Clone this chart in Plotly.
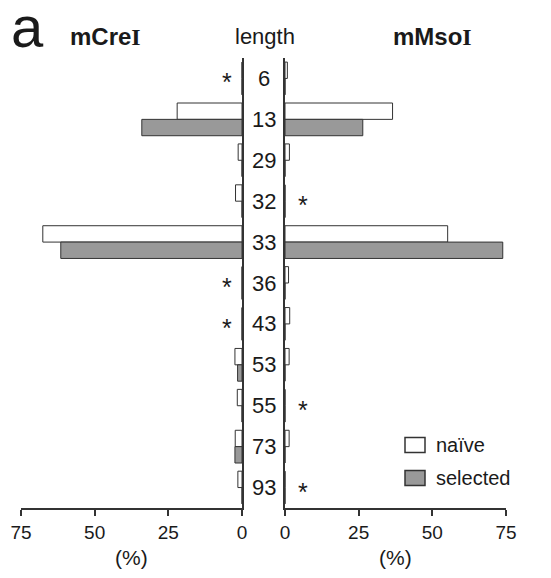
import plotly.graph_objects as go

# ---- data ----
lengths = ["6", "13", "29", "32", "33", "36", "43", "53", "55", "73", "93"]
mcrei_naive =    [0, 22, 1.3, 2.2, 67.6, 0, 0, 2.4, 1.6, 2.3, 1.4]
mcrei_selected = [0, 34, 0,   0,   61.5, 0, 0, 1.5, 0,   2.4, 0]
mmsoi_naive =    [0.8, 36.5, 1.5, 0, 55.2, 1.2, 1.6, 1.4, 0, 1.4, 0]
mmsoi_selected = [0,   26.4, 0,   0, 73.9, 0,   0,   0,   0, 0,   0]
mcrei_stars = ["6", "36", "43"]
mmsoi_stars = ["32", "55", "93"]
xticks = [0, 25, 50, 75]
series_names = ["naïve", "selected"]

FONT = "Liberation Sans, Arial, sans-serif"
SERIF = "Liberation Serif, Times New Roman, serif"
TXT = "#1a1a1a"
LINE = "#333333"
GRAY = "#999999"
FILLS = ["white", GRAY]

fig = go.Figure()
for xa, ya, vals in [("x", "y", [mcrei_naive, mcrei_selected]),
                     ("x2", "y2", [mmsoi_naive, mmsoi_selected])]:
    for name, v, fc in zip(series_names, vals, FILLS):
        fig.add_trace(go.Bar(y=lengths, x=v, orientation="h", name=name,
                             marker=dict(color=fc, line=dict(color=LINE, width=1)),
                             xaxis=xa, yaxis=ya, showlegend=False))

W, H = 551, 578
ydom = [1 - 508 / H, 1 - 58 / H]
ncat = len(lengths)
xcommon = dict(tickvals=xticks, ticktext=[str(v) for v in xticks], ticks="outside",
               ticklen=6, tickwidth=1.5, tickcolor=LINE, showline=True, linecolor=LINE,
               linewidth=1.5, showgrid=False, zeroline=False,
               tickfont=dict(family=FONT, size=19, color=TXT))
ycommon = dict(type="category", categoryorder="array", categoryarray=lengths,
               range=[ncat - 0.5, -0.5], autorange=False,
               showline=True, linecolor=LINE, linewidth=1.5,
               showgrid=False, zeroline=False, showticklabels=False, ticks="",
               domain=ydom)


def ann(**kw):
    d = dict(showarrow=False, xanchor="center", yanchor="middle")
    d.update(kw)
    return d


annotations = []
for i, lab in enumerate(lengths):
    annotations.append(ann(x=264 / W, xref="paper", y=i, yref="y", text=lab,
                           font=dict(family=FONT, size=22, color=TXT)))
for lab in mcrei_stars:
    annotations.append(ann(x=5, xref="x", y=lengths.index(lab), yref="y", text="*",
                           yshift=-4, font=dict(family=FONT, size=25, color=TXT)))
for lab in mmsoi_stars:
    annotations.append(ann(x=6, xref="x2", y=lengths.index(lab), yref="y2", text="*",
                           yshift=-4, font=dict(family=FONT, size=25, color=TXT)))
annotations += [
    ann(x=37.5, xref="x", y=1 - 557 / H, yref="paper", text="(%)",
        font=dict(family=FONT, size=21, color=TXT)),
    ann(x=37.5, xref="x2", y=1 - 557 / H, yref="paper", text="(%)",
        font=dict(family=FONT, size=21, color=TXT)),
    ann(x=27 / W, xref="paper", y=1, yref="paper", yanchor="top", yshift=8, text="a",
        font=dict(family=FONT, size=58, color=TXT)),
    ann(x=105 / W, xref="paper", y=1 - 37 / H, yref="paper",
        text=f'<b>mCre<span style="font-family:{SERIF}">I</span></b>',
        font=dict(family=FONT, size=24, color=TXT)),
    ann(x=265 / W, xref="paper", y=1 - 37 / H, yref="paper", text="length",
        font=dict(family=FONT, size=22, color=TXT)),
    ann(x=432 / W, xref="paper", y=1 - 37 / H, yref="paper",
        text=f'<b>mMso<span style="font-family:{SERIF}">I</span></b>',
        font=dict(family=FONT, size=24, color=TXT)),
]

# manual legend (boxes + labels)
shapes = []
leg_y = [445, 478]
for name, fc, yc in zip(series_names, FILLS, leg_y):
    shapes.append(dict(type="rect", xref="paper", yref="paper",
                       x0=405 / W, x1=425 / W, y0=1 - (yc + 7.5) / H, y1=1 - (yc - 7.5) / H,
                       fillcolor=fc, line=dict(color=LINE, width=1.5)))
    annotations.append(ann(x=434 / W, xref="paper", y=1 - yc / H, yref="paper",
                           xanchor="left", text=name,
                           font=dict(family=FONT, size=20, color=TXT)))

fig.update_layout(
    width=W, height=H, margin=dict(l=0, r=0, t=0, b=0, autoexpand=False),
    paper_bgcolor="white", plot_bgcolor="white",
    barmode="group", bargap=0.2, bargroupgap=0,
    xaxis=dict(domain=[21 / W, 242 / W], range=[75, 0], anchor="y", **xcommon),
    xaxis2=dict(domain=[285 / W, 506 / W], range=[0, 75], anchor="y2", **xcommon),
    yaxis=dict(anchor="x", side="right", **ycommon),
    yaxis2=dict(anchor="x2", side="left", **ycommon),
    annotations=annotations,
    shapes=shapes,
    showlegend=False,
)

fig.write_html("out.html", config={"displayModeBar": False},
               post_script="document.body.style.margin='0';document.body.style.overflow='hidden';")
